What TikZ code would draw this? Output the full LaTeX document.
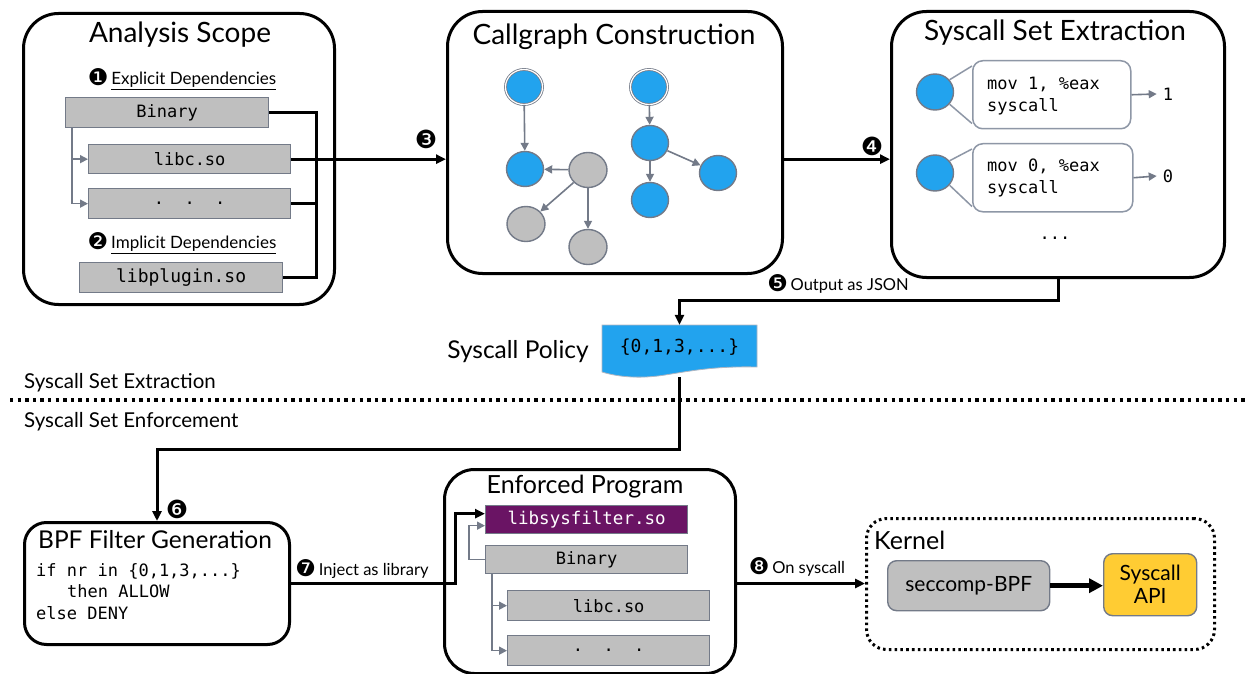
\documentclass[tikz,border=0pt]{standalone}
\usepackage{fontspec}
\setmainfont{Lato}
\newfontfamily\monof{DejaVu Sans Mono}
\newfontfamily\dingf{DejaVu Sans}
\usetikzlibrary{arrows.meta,shapes.geometric,calc}
\definecolor{nodeblue}{HTML}{22A3EE}
\definecolor{boxgray}{HTML}{BFBFBF}
\definecolor{edgegray}{HTML}{737A88}
\definecolor{lightedge}{HTML}{8E97A6}
\definecolor{filterpurple}{HTML}{6A1464}
\definecolor{apiyellow}{HTML}{FFCC33}
\tikzset{
  panel/.style={draw=black, line width=3pt, fill=white, rounded corners=35pt, anchor=north west, inner sep=0pt},
  ttl/.style={font=\fontsize{28}{32}\selectfont},
  seplbl/.style={font=\fontsize{20.5}{24}\selectfont, anchor=west, inner sep=0pt},
  smalllbl/.style={font=\fontsize{16.5}{20}\selectfont, inner sep=0pt},
  numlbl/.style={font=\dingf\fontsize{25}{27}\selectfont, inner sep=0pt},
  libbox/.style={draw=edgegray, line width=1.3pt, fill=boxgray, anchor=north west,
    inner sep=0pt, font=\monof\fontsize{17}{20}\selectfont},
  bnode/.style={ellipse, draw=edgegray, line width=1.4pt, fill=nodeblue, minimum width=37pt, minimum height=35pt, inner sep=0pt},
  gnode/.style={ellipse, draw=edgegray, line width=1.4pt, fill=boxgray, minimum width=38pt, minimum height=35pt, inner sep=0pt},
  rootring/.style={draw=edgegray, line width=0.8pt, double=white, double distance=1.2pt},
  garr/.style={draw=edgegray, line width=1.6pt, -{Triangle[length=8pt,width=8pt]}},
  blk/.style={draw=black, line width=3pt},
  blkarr/.style={blk, -{Triangle[length=10pt,width=9pt]}},
  monotxt/.style={font=\monof\fontsize{17}{21.5}\selectfont, inner sep=0pt}
}
\newcommand{\dnum}[1]{\raisebox{-1pt}{\dingf\fontsize{23}{24}\selectfont #1}}
\begin{document}
\begin{tikzpicture}[x=1pt,y=-1pt]
\useasboundingbox (0,0) rectangle (1248,674);

% ---------- Analysis Scope ----------
\node[panel, minimum width=311pt, minimum height=291pt] (scope) at (22,12) {};
\node[ttl] at (180,35) {Analysis Scope};
\node[font=\fontsize{17}{20}\selectfont, inner sep=0pt] at (182,79) {\dnum{❶}\,\underline{Explicit Dependencies}};
\node[libbox, minimum width=203pt, minimum height=30pt] (bin) at (65,97) {Binary};
\node[libbox, minimum width=202pt, minimum height=29pt] (libc) at (88,144) {libc.so};
\node[libbox, minimum width=202pt, minimum height=30pt] (dots) at (88,188) {.\ \ .\ \ .};
\node[font=\fontsize{17}{20}\selectfont, inner sep=0pt] at (182,243) {\dnum{❷}\,\underline{Implicit Dependencies}};
\node[libbox, minimum width=203pt, minimum height=30pt, font=\monof\fontsize{18}{20}\selectfont] (plug) at (79,262) {libplugin.so};
\draw[garr] ($(bin.south west)+(7,0)$) |- (libc.west);
\draw[garr] ($(bin.south west)+(7,0)$) |- (dots.west);
\coordinate (bus) at (316,0);
\draw[blk] (bin.east) -- (bin.east -| bus) -- (plug.east -| bus) -- (plug.east);
\draw[blk] (dots.east) -- (dots.east -| bus);

% ---------- Callgraph Construction ----------
\node[panel, minimum width=335pt, minimum height=262pt] (cg) at (446,10) {};
\node[ttl] at (614,37) {Callgraph Construction};
\draw[blkarr] (libc.east) -- (cg.west |- libc.east);
\node[numlbl] at (426,139) {❸};
\node[bnode, rootring] (a1) at (524,87) {};
\node[bnode] (a2) at (525,169) {};
\node[gnode] (g1) at (588,170) {};
\node[gnode] (g2) at (526,224) {};
\node[gnode] (g3) at (588,247) {};
\node[bnode, rootring] (b1) at (649,87) {};
\node[bnode] (b2) at (650,143) {};
\node[bnode] (b3) at (650,200) {};
\node[bnode] (b4) at (718,173) {};
\draw[garr] (a1) -- (a2);
\draw[garr] (g1) -- (a2);
\draw[garr] (g1) -- (g2);
\draw[garr] (g1.south) -- (g3);
\draw[garr] (b1) -- (b2);
\draw[garr] (b2) -- (b3);
\draw[garr] (b2) -- (b4);

% ---------- Syscall Set Extraction ----------
\node[panel, minimum width=333pt, minimum height=266pt] (ext) at (890,10) {};
\node[ttl] at (1055,33) {Syscall Set Extraction};
\draw[blkarr] (cg.east |- libc.east) -- (ext.west |- libc.east);
\node[numlbl] at (872,146) {❹};
\node[bnode, minimum height=36pt] (sc1) at (935,92) {};
\node[bnode, minimum height=36pt] (sc2) at (935,173) {};
\node[draw=lightedge, line width=1.5pt, fill=white, rounded corners=10pt, anchor=north west,
  minimum width=158pt, minimum height=68pt, inner sep=0pt] (cb1) at (972,60) {};
\node[draw=lightedge, line width=1.5pt, fill=white, rounded corners=10pt, anchor=north west,
  minimum width=160pt, minimum height=68pt, inner sep=0pt] (cb2) at (972,143) {};
\draw[lightedge, line width=1.5pt] (sc1.40) -- ($(cb1.north west)+(0,6)$);
\draw[lightedge, line width=1.5pt] (sc1.-40) -- ($(cb1.south west)+(0,-6)$);
\draw[lightedge, line width=1.5pt] (sc2.40) -- ($(cb2.north west)+(0,6)$);
\draw[lightedge, line width=1.5pt] (sc2.-40) -- ($(cb2.south west)+(0,-6)$);
\node[monotxt, anchor=north west, align=left] at (987,77) {mov 1, \%eax\\syscall};
\node[monotxt, anchor=north west, align=left] at (987,159) {mov 0, \%eax\\syscall};
\node[monotxt] (o1) at (1168,94) {1};
\node[monotxt] (o0) at (1168,176) {0};
\draw[garr] (cb1.east) -- ($(o1.west)+(-6,0)$);
\draw[garr] (cb2.east) -- ($(o0.west)+(-6,0)$);
\node[monotxt] at (1055,238) {...};

% ---------- Syscall Policy ----------
\node[minimum width=155pt, minimum height=52pt, inner sep=0pt] (policy) at (679.5,351) {};
\fill[nodeblue, draw=lightedge!70, line width=0.8pt]
  (602,325) -- (757,325) -- (757,367)
  .. controls (715,366) and (690,371) .. (665,375)
  .. controls (640,379) and (618,377) .. (602,372) -- cycle;
\node[monotxt, font=\monof\fontsize{18}{20}\selectfont] at (679.5,347) {\{0,1,3,...\}};
\node[font=\fontsize{24.5}{28}\selectfont] at (518,352) {Syscall Policy};
\draw[blkarr] (ext.south) -- (ext.south |- 0,300) -| (policy.north);
\node[smalllbl] at (838,284) {\dnum{❺}\,Output as JSON};

% ---------- phase separator ----------
\draw[black, line width=3.4pt, dash pattern=on 3.4pt off 4.2pt] (10,400) -- (1248,400);
\node[seplbl] at (24,383) {Syscall Set Extraction};
\node[seplbl] at (24,422) {Syscall Set Enforcement};

% ---------- BPF Filter Generation ----------
\node[panel, rounded corners=22pt, minimum width=265pt, minimum height=122pt] (bpf) at (23,521) {};
\node[font=\fontsize{24.5}{28}\selectfont] at (155,540) {BPF Filter Generation};
\node[monotxt, anchor=north west, align=left] at (36,563) {if nr in \{0,1,3,...\}\\\hspace*{31pt}then ALLOW\\else DENY};
\draw[blkarr] (policy.south) -- (policy.south |- 0,449) -| (bpf.north);
\node[numlbl] at (177,509) {❻};

% ---------- Enforced Program ----------
\node[panel, rounded corners=30pt, minimum width=291pt, minimum height=204pt] (enf) at (443,468) {};
\node[font=\fontsize{25}{29}\selectfont] at (585,487) {Enforced Program};
\node[libbox, fill=filterpurple, text=white, minimum width=202pt, minimum height=28pt, font=\monof\fontsize{17.5}{20}\selectfont] (sysf) at (485,505) {libsysfilter.so};
\node[libbox, minimum width=202pt, minimum height=28pt] (bin2) at (485,545) {Binary};
\node[libbox, minimum width=202pt, minimum height=30pt] (libc2) at (507,590) {libc.so};
\node[libbox, minimum width=202pt, minimum height=30pt] (dots2) at (507,635) {.\ \ .\ \ .};
\draw[garr] (bin2.west) -- ++(-16,0) |- ($(sysf.west)+(0,6)$);
\draw[garr] ($(bin2.south west)+(7,0)$) |- (libc2.west);
\draw[garr] ($(bin2.south west)+(7,0)$) |- (dots2.west);
\coordinate (inj) at (455,0);
\draw[blkarr] (bpf.east) -- (bpf.east -| inj) |- ($(sysf.west)+(0,-6)$);
\node[smalllbl] at (362,569) {\dnum{❼}\,Inject as library};

% ---------- Kernel ----------
\node[draw=black, line width=3pt, dash pattern=on 2.6pt off 3.2pt, rounded corners=20pt, anchor=north west,
  minimum width=348pt, minimum height=131pt, inner sep=0pt] (kern) at (865,517) {};
\node[font=\fontsize{25}{29}\selectfont, anchor=west, inner sep=0pt] at (874,540) {Kernel};
\node[draw=edgegray, line width=1.4pt, fill=boxgray, rounded corners=9pt, anchor=north west,
  minimum width=162pt, minimum height=50pt, inner sep=0pt, font=\fontsize{21}{24}\selectfont] (secc) at (887,560) {seccomp-BPF};
\node[draw=edgegray, line width=1.4pt, fill=apiyellow, rounded corners=9pt, anchor=north west,
  minimum width=93pt, minimum height=62pt, inner sep=0pt, align=center, font=\fontsize{21}{23}\selectfont] (api) at (1103,553) {Syscall\\API};
\draw[black, line width=5pt, -{Triangle[length=14pt,width=14pt]}] (secc.east) -- (api.west |- secc.east);
\draw[blkarr] (enf.east |- bpf.east) -- (kern.west |- bpf.east);
\node[smalllbl] at (797,567) {\dnum{❽}\,On syscall};
\end{tikzpicture}
\end{document}
